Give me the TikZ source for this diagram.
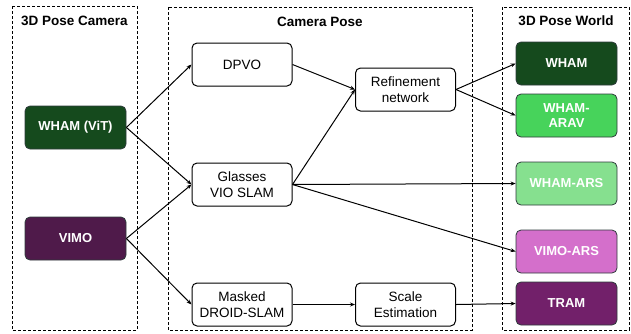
\documentclass[tikz,border=0pt]{standalone}
\usepackage{fontspec}
\setmainfont{Liberation Sans}
\usetikzlibrary{arrows.meta}
\definecolor{dkgreen}{HTML}{154A1D}
\definecolor{dkpurple}{HTML}{4F1A4A}
\definecolor{midgreen}{HTML}{47D35B}
\definecolor{ltgreen}{HTML}{86E08F}
\definecolor{orchidc}{HTML}{D46FCB}
\definecolor{tramc}{HTML}{72206A}
\definecolor{edgegray}{HTML}{2E3B3B}
\begin{document}
\begin{tikzpicture}[x=1pt,y=-1pt,
  group/.style={draw, dashed, dash pattern=on 3pt off 2pt, line width=0.9pt},
  ttl/.style={font=\fontsize{13.5}{15}\selectfont\bfseries},
  wbox/.style={draw, line width=1pt, rounded corners=5pt, fill=white, minimum width=100pt, minimum height=43pt, align=center, inner sep=1pt, font=\fontsize{13.5}{16}\selectfont},
  cbox/.style={draw=edgegray, line width=0.8pt, rounded corners=5pt, minimum width=101pt, minimum height=43pt, align=center, inner sep=1pt, text=white, font=\fontsize{13}{15.5}\selectfont\bfseries},
  arr/.style={-{Stealth[length=5pt,width=4pt]}, line width=1pt}]
\useasboundingbox (0,0) rectangle (631,333);
% groups
\draw[group] (12,6) rectangle (137,330);
\draw[group] (168,7) rectangle (472,330);
\draw[group] (502,7) rectangle (629,330);
\node[ttl] (t1) at (74.5,21) {3D Pose Camera};
\node[ttl] (t2) at (320,22) {Camera Pose};
\node[ttl] (t3) at (566,21) {3D Pose World};
% left
\node[cbox, fill=dkgreen] (wvit) at (75.5,127.5) {WHAM (ViT)};
\node[cbox, fill=dkpurple] (vimo) at (75.5,238.5) {VIMO};
% middle
\node[wbox] (dpvo) at (242,64.5) {DPVO};
\node[wbox] (glass) at (242,184.5) {Glasses\\VIO SLAM};
\node[wbox] (droid) at (242,304.5) {Masked\\DROID-SLAM};
\node[wbox] (refine) at (405.5,89.5) {Refinement\\network};
\node[wbox] (scale) at (405.5,304.5) {Scale\\Estimation};
% right
\node[cbox, fill=dkgreen] (wham) at (566.5,63.5) {WHAM};
\node[cbox, fill=midgreen] (arav) at (566.5,115.5) {WHAM-\\ARAV};
\node[cbox, fill=ltgreen] (wars) at (566.5,183.5) {WHAM-ARS};
\node[cbox, fill=orchidc] (vars) at (566.5,251.5) {VIMO-ARS};
\node[cbox, fill=tramc] (tram) at (566.5,303.5) {TRAM};
% edges
\draw[arr] (wvit.east) -- (dpvo.west);
\draw[arr] (wvit.east) -- (glass.west);
\draw[arr] (vimo.east) -- (glass.west);
\draw[arr] (vimo.east) -- (droid.west);
\draw[arr] (dpvo.east) -- (refine.west);
\draw[arr] (glass.east) -- (refine.west);
\draw[arr] (refine.east) -- (wham.west);
\draw[arr] (refine.east) -- (arav.west);
\draw[arr] (glass.east) -- (wars.west);
\draw[arr] (glass.east) -- (vars.west);
\draw[arr] (droid.east) -- (scale.west);
\draw[arr] (scale.east) -- (tram.west);
\end{tikzpicture}
\end{document}
